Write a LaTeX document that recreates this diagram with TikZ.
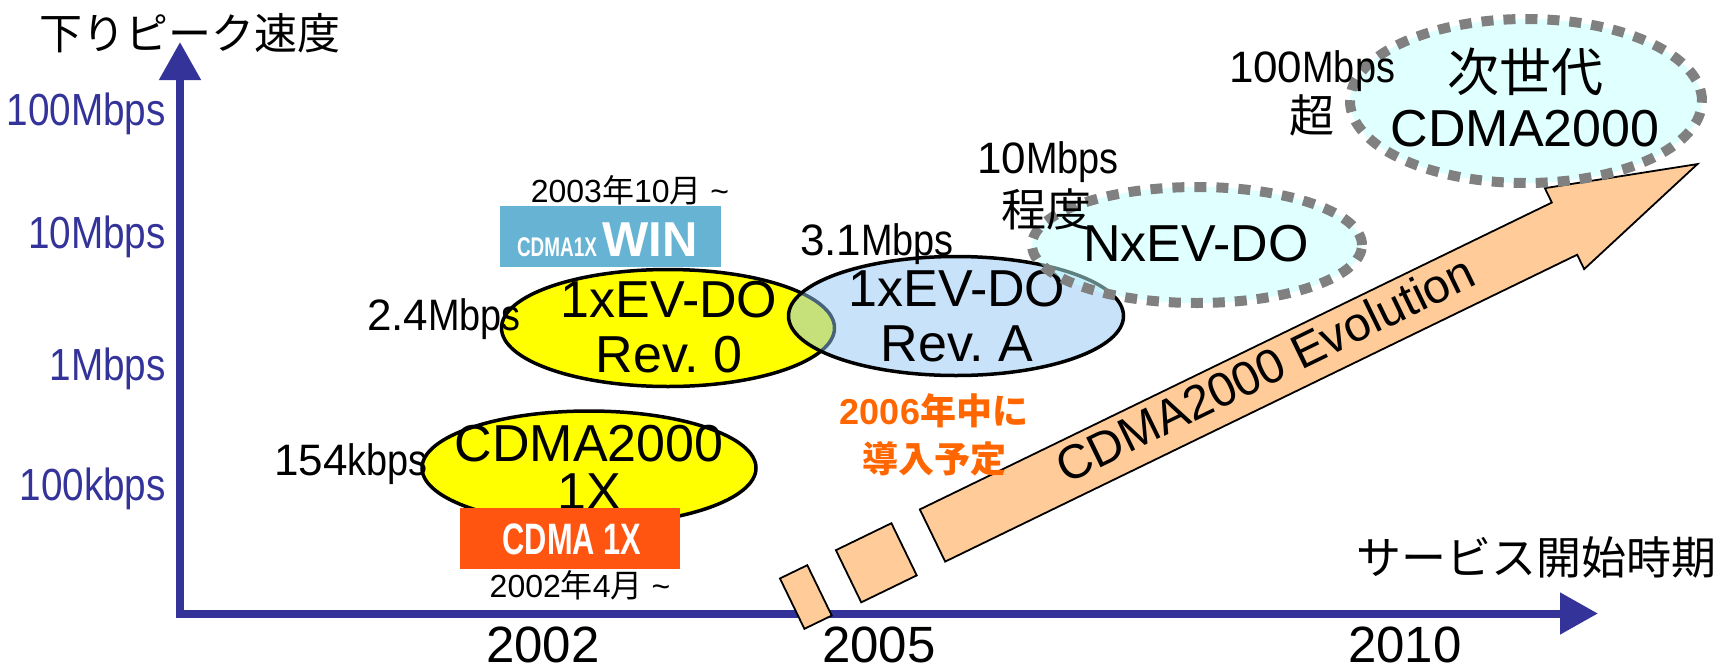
\documentclass[tikz,border=0pt]{standalone}
\usepackage{fontspec}
\setmainfont{Liberation Sans}
\newfontfamily\jp{Noto Sans CJK JP}
\newfontfamily\narrow[FakeStretch=0.86]{Liberation Sans}
\newfontfamily\logofont[FakeStretch=0.7]{Liberation Sans}
\newcommand{\ja}[1]{{\jp #1}}
\usetikzlibrary{arrows.meta,shapes.geometric}
\definecolor{axisblue}{RGB}{51,51,153}
\definecolor{evoyellow}{RGB}{255,255,0}
\definecolor{revblue}{RGB}{145,197,245}
\definecolor{nextcyan}{RGB}{193,255,255}
\definecolor{dashgray}{RGB}{128,128,128}
\definecolor{peach}{RGB}{255,204,153}
\definecolor{winblue}{RGB}{103,179,211}
\definecolor{auorange}{RGB}{255,85,17}
\definecolor{plantext}{RGB}{255,102,0}
\frenchspacing
\begin{document}
\begin{tikzpicture}[x=1pt,y=-1pt,>={Triangle[length=38pt,width=40pt]},
	axisline/.style={draw=axisblue,line width=8pt,<->},
	oval/.style={ellipse,draw=black,line width=3.5pt,inner sep=0pt},
	yellowoval/.style={oval,fill=evoyellow},
	blueoval/.style={oval,fill=revblue,fill opacity=0.5},
	dashoval/.style={oval,draw=dashgray,line width=10pt,dash pattern=on 12pt off 10pt,fill=nextcyan,fill opacity=0.5},
	ovaltext/.style={inner sep=0pt,align=center,font=\fontsize{52}{55}\selectfont},
	ticklabel/.style={text=axisblue,inner sep=0pt,anchor=base east,font=\narrow\fontsize{45}{45}\selectfont},
	rate/.style={inner sep=0pt,font=\fontsize{44}{44}\selectfont},
	ratenote/.style={inner sep=0pt,font=\jp\fontsize{45}{45}\selectfont},
	datelabel/.style={inner sep=0pt,font=\fontsize{32}{32}\selectfont},
	yearlabel/.style={inner sep=0pt,anchor=base,font=\fontsize{51}{51}\selectfont},
	logobox/.style={inner sep=0pt,minimum width=221pt,minimum height=61pt},
	logotext/.style={inner sep=0pt,text=white},
	evoarrow/.style={draw=black,line width=1.8pt,fill=peach}]
	\useasboundingbox (0,0) rectangle (1730,667);
	\coordinate (ytip) at (180,42);
	\coordinate (origin) at (180,613.5);
	\coordinate (xtip) at (1598,613.5);
	\draw[axisline] (ytip) -- (origin) -- (xtip);
	\node[font=\jp\fontsize{43}{43}\selectfont] (ytitle) at (190,33) {下りピーク速度};
	\node[font=\jp\fontsize{45}{45}\selectfont] (xtitle) at (1536,557) {サービス開始時期};
	\node[ticklabel] (t100m) at (166,125) {100Mbps};
	\node[ticklabel] (t10m) at (166,248) {10Mbps};
	\node[ticklabel] (t1m) at (166,380) {1Mbps};
	\node[ticklabel] (t100k) at (166,500) {100kbps};
	\node[yearlabel] (y2002) at (543,662) {2002};
	\node[yearlabel] (y2005) at (879,662) {2005};
	\node[yearlabel] (y2010) at (1405,662) {2010};
	\begin{scope}[shift={(932.5,535.5)},rotate=25.9]
		\draw[evoarrow] (0,-29) -- (702.6,-29) -- (702.6,-45) -- (850.4,0) -- (702.6,45) -- (702.6,29) -- (0,29) -- cycle;
		\draw[evoarrow] (-93.3,-29) rectangle (-31.6,29);
		\draw[evoarrow] (-156,-28) rectangle (-125.6,28);
		\node[transform shape,inner sep=0pt,font=\fontsize{48}{48}\selectfont] (evotext) at (372,-5) {CDMA2000 Evolution};
	\end{scope}
	\node[yellowoval,minimum width=334pt,minimum height=114pt] (cdma1x) at (589,468) {};
	\node[ovaltext] (cdma1xtext) at (589,467) {CDMA2000\\[-7pt]1X};
	\node[logobox,fill=auorange,minimum width=220pt] (aulogo) at (570,538.5) {};
	\node[logotext,font=\logofont\bfseries\fontsize{44}{44}\selectfont] (aulogotext) at (572,539) {CDMA 1X};
	\node[datelabel] (audate) at (580,585) {2002\ja{年}4\ja{月} \textasciitilde};
	\node[yellowoval,minimum width=333pt,minimum height=117pt] (rev0) at (668,328) {};
	\node[ovaltext] (rev0text) at (669,327) {1xEV-DO\\Rev. 0};
	\node[logobox,fill=winblue] (winlogo) at (610.5,236.5) {};
	\node[logotext,font=\logofont\bfseries\fontsize{27}{27}\selectfont] (wincdma) at (557,247) {CDMA1X};
	\node[logotext,font=\bfseries\fontsize{49}{49}\selectfont] (winword) at (650,240) {WIN};
	\node[datelabel] (windate) at (630,190) {2003\ja{年}10\ja{月} \textasciitilde};
	\node[blueoval,minimum width=335pt,minimum height=119pt] (reva) at (956,316) {};
	\node[ovaltext] (revatext) at (957,316) {1xEV-DO\\Rev. A};
	\node[dashoval,minimum width=330pt,minimum height=116pt] (nxevdo) at (1197,245) {};
	\node[ovaltext] (nxevdotext) at (1196,244) {NxEV-DO};
	\node[dashoval,minimum width=352pt,minimum height=164pt] (nextgen) at (1526,101) {};
	\node[ovaltext] (nextgentext) at (1525,97.5) {\ja{次世代}\\CDMA2000};
	\node[rate,anchor=base east] (r154) at (428,475) {154{\narrow kbps}};
	\node[rate,anchor=base east] (r24) at (521,330) {2.4{\narrow Mbps}};
	\node[rate,anchor=base west] (r31) at (800,255) {3.1{\narrow Mbps}};
	\node[rate,anchor=base] (r10) at (1048,173) {10{\narrow Mbps}};
	\node[ratenote] (r10note) at (1046,209) {程度};
	\node[rate,anchor=base] (r100) at (1312,82) {100{\narrow Mbps}};
	\node[ratenote] (r100note) at (1312,115) {超};
	\node[inner sep=0pt,align=center,text=plantext,font=\bfseries\fontsize{36}{48}\selectfont] (plan) at (934,435) {2006\ja{年中に}\\\ja{導入予定}};
\end{tikzpicture}
\end{document}
